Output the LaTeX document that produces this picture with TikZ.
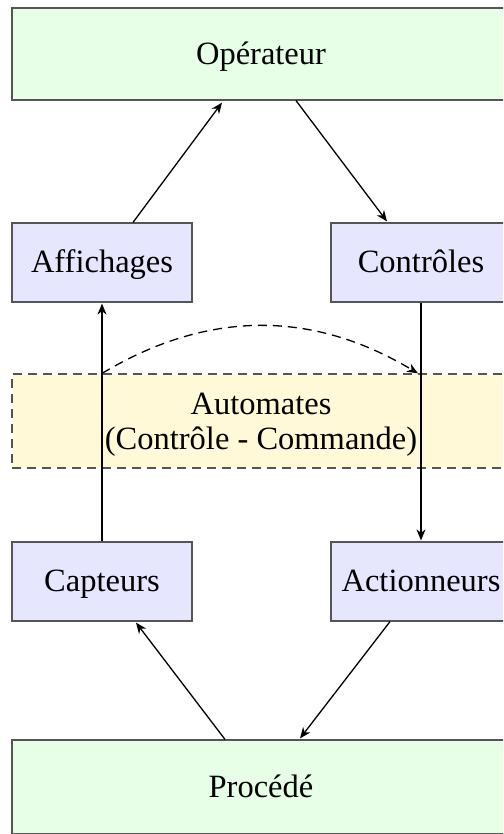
\documentclass[tikz,border=0pt]{standalone}
\usepackage{fontspec}
\setmainfont{Liberation Serif}
\usetikzlibrary{arrows.meta}
\definecolor{bgreen}{RGB}{230,255,230}
\definecolor{bblue}{RGB}{230,230,255}
\definecolor{byellow}{RGB}{255,249,215}
\definecolor{bordergray}{RGB}{85,85,85}
\tikzset{
  bigbox/.style={draw=bordergray, line width=1.2pt, fill=bgreen, minimum width=498pt, minimum height=92pt, inner sep=0pt, text height=28pt, text depth=7pt},
  smallbox/.style={draw=bordergray, line width=1.2pt, fill=bblue, minimum width=180pt, minimum height=79pt, inner sep=0pt, text height=27pt, text depth=7pt},
  autobox/.style={draw=bordergray, line width=1.2pt, dash pattern=on 9pt off 6pt, fill=byellow, minimum width=498pt, minimum height=94pt, inner sep=0pt},
  conn/.style={line width=1.3pt, -{Stealth[length=11pt,width=9pt,inset=3.5pt]}},
  dconn/.style={conn, dash pattern=on 9pt off 6pt}
}
\begin{document}
\begin{tikzpicture}[x=1pt,y=1pt,font=\fontsize{32.5}{35}\selectfont]
\useasboundingbox (0,0) rectangle (503,-834);
\clip (0,0) rectangle (503,-834);
\node[bigbox] (op) at (261,-54) {Opérateur};
\node[bigbox, minimum height=94pt] (pro) at (261,-787) {Procédé};
\node[smallbox] (aff) at (102,-262.5) {Affichages};
\node[smallbox] (con) at (421,-262.5) {Contrôles};
\node[smallbox] (cap) at (102,-581.5) {Capteurs};
\node[smallbox] (act) at (421,-581.5) {Actionneurs};
\node[autobox] (aut) at (261,-421) {\raisebox{-4pt}[\height][\depth]{\begin{tabular}{@{}c@{}}Automates\\(Contrôle - Commande)\end{tabular}}};
\draw[conn] ([xshift=31pt]aff.north) -- ([xshift=-39pt,yshift=-2pt]op.south);
\draw[conn] ([xshift=35pt]op.south) -- ([xshift=-34pt,yshift=1pt]con.north);
\draw[conn] (cap.north) -- ([yshift=-1pt]aff.south);
\draw[conn] (con.south) -- ([yshift=1pt]act.north);
\draw[conn] ([xshift=-36pt]pro.north) -- ([xshift=34pt,yshift=-1pt]cap.south);
\draw[conn] ([xshift=-31pt]act.south) -- ([xshift=39pt,yshift=1pt]pro.north);
\draw[dconn] (aut.north -| cap.north) to[bend left=31] ([xshift=-3pt]aut.north -| con.south);
\end{tikzpicture}
\end{document}
